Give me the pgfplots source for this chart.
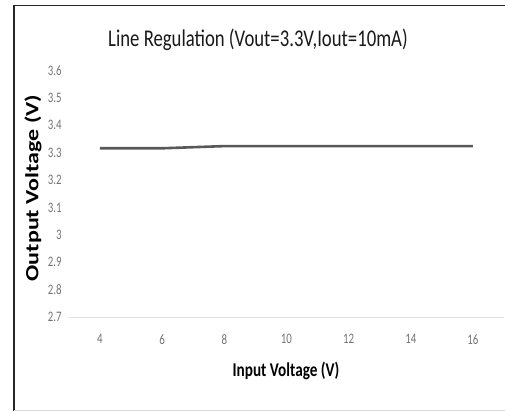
\documentclass[border=0pt]{standalone}
\usepackage{pgfplots}
\pgfplotsset{compat=1.18}
\usepackage{fontspec}
\setmainfont{Carlito}
\begin{document}
\begin{tikzpicture}[x=1pt,y=1pt]
\useasboundingbox (0,0) rectangle (505,-412);
% outer chart frame
\draw[black!85, line width=1.6pt] (14,-411) -- (14,-5.5) -- (510,-5.5);
\draw[black!15, line width=1pt] (14,-410) -- (510,-410);
\begin{axis}[
    at={(68.9pt,-317pt)}, anchor=south west,
    scale only axis,
    width=435.1pt, height=246.5pt,
    xmin=3, xmax=17,
    ymin=2.7, ymax=3.6,
    xtick={4,6,...,16},
    ytick={2.7,2.8,...,3.6},
    yticklabel style={/pgf/number format/fixed, /pgf/number format/precision=1},
    axis line style={draw=none},
    axis x line*=bottom,
    axis y line*=left,
    x axis line style={draw=black!12, line width=0.8pt},
    major tick length=0pt,
    tick label style={text=black!55, font=\fontsize{14.5}{14.5}\selectfont, xscale=0.75},
    /pgf/number format/assume math mode=true,
    xticklabel style={yshift=-14pt},
    yticklabel style={xshift=-6pt},
    clip=false,
]
\addplot[color=black!65, line width=2.6pt, line join=round] coordinates {
  (4,3.316) (6,3.316) (8,3.324) (10,3.324) (12,3.324) (14,3.324) (16,3.324)
};
\end{axis}
\node[font=\fontsize{24}{24}\selectfont, xscale=0.78, text=black!90] at (258,-40) {Line Regulation (Vout=3.3V,Iout=10mA)};
\node[font=\bfseries\fontsize{19.5}{19.5}\selectfont, xscale=0.78] at (286,-371) {Input Voltage (V)};
\node[font=\bfseries\fontsize{24}{24}\selectfont, rotate=90, yscale=0.78] at (33,-188) {Output Voltage (V)};
\end{tikzpicture}
\end{document}
